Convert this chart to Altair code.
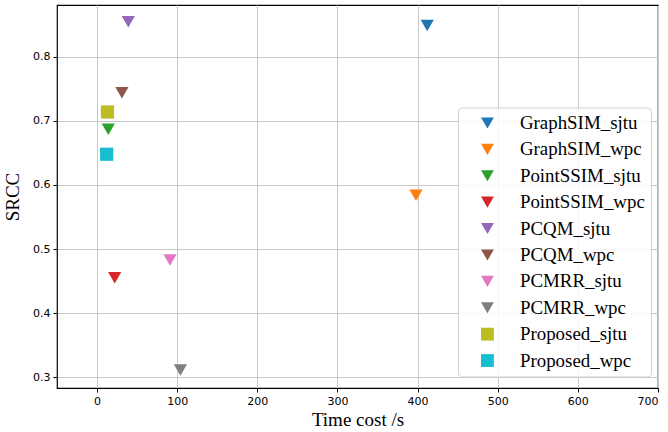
import altair as alt
import pandas as pd

series = ["GraphSIM_sjtu", "GraphSIM_wpc", "PointSSIM_sjtu", "PointSSIM_wpc",
          "PCQM_sjtu", "PCQM_wpc", "PCMRR_sjtu", "PCMRR_wpc",
          "Proposed_sjtu", "Proposed_wpc"]
time_cost = [412, 398, 14, 22, 39, 31, 91, 104, 13, 12]
srcc = [0.849, 0.584, 0.687, 0.455, 0.855, 0.744, 0.483, 0.311, 0.714, 0.648]
colors = ["#1f77b4", "#ff7f0e", "#2ca02c", "#d62728", "#9467bd",
          "#8c564b", "#e377c2", "#7f7f7f", "#bcbd22", "#17becf"]
shapes = ["triangle-down"] * 8 + ["square"] * 2

df = pd.DataFrame({"series": series, "time": time_cost, "srcc": srcc})

legend_opts = dict(title=None, orient="none", legendX=401, legendY=102.5,
                   labelFont="Liberation Serif", labelFontSize=18.9,
                   labelColor="black", symbolSize=165,
                   symbolOpacity=1, rowPadding=6.4, padding=6,
                   labelOffset=23, symbolOffset=14,
                   strokeColor="#d0d0d0", cornerRadius=4,
                   fillColor="rgba(255,255,255,0.85)")

chart = alt.Chart(df).mark_point(filled=True, opacity=1, size=175).encode(
    x=alt.X("time:Q", title="Time cost /s",
            scale=alt.Scale(domain=[-50, 700], nice=False, zero=False),
            axis=alt.Axis(values=list(range(0, 701, 100)))),
    y=alt.Y("srcc:Q", title="SRCC",
            scale=alt.Scale(domain=[0.283, 0.881], nice=False, zero=False),
            axis=alt.Axis(values=[0.3, 0.4, 0.5, 0.6, 0.7, 0.8], format=".1f")),
    color=alt.Color("series:N", sort=series,
                    scale=alt.Scale(domain=series, range=colors),
                    legend=alt.Legend(**legend_opts)),
    shape=alt.Shape("series:N", sort=series,
                    scale=alt.Scale(domain=series, range=shapes),
                    legend=alt.Legend(**legend_opts)),
).properties(
    width=601, height=383,
    padding={"left": 57, "top": 5, "right": 10, "bottom": 44},
    autosize=alt.AutoSizeParams(type="none"),
).configure_view(
    stroke="black", strokeWidth=1.2
).configure_axis(
    grid=True, gridColor="#c8c8c8", gridWidth=1,
    domain=False, tickColor="black", tickSize=4,
    labelFont="DejaVu Sans", labelFontSize=11, labelColor="black",
    titleFont="Liberation Serif", titleFontSize=19, titleFontWeight="normal",
    titleColor="black", labelPadding=3
).configure_axisX(titlePadding=4).configure_axisY(titlePadding=10)

chart.save("out.html", embed_options={"renderer": "svg", "actions": False})
